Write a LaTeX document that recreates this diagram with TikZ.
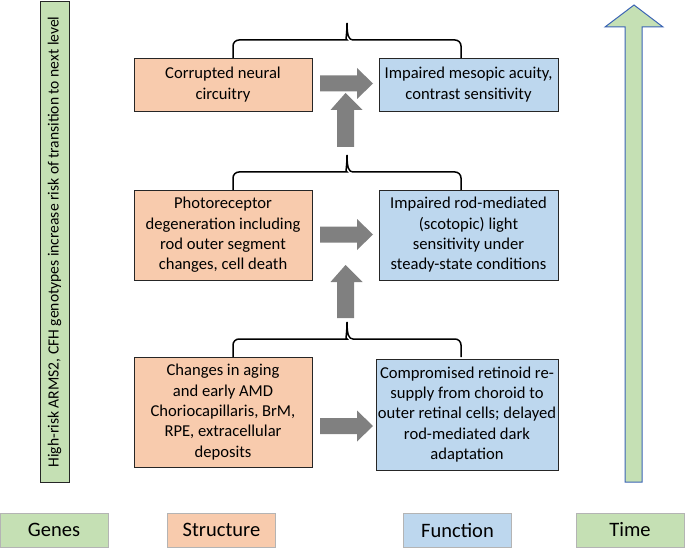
\documentclass[tikz,border=0pt]{standalone}
\usepackage{fontspec}
\setmainfont{Carlito}
\definecolor{sfill}{HTML}{F8CBAD}
\definecolor{ffill}{HTML}{BDD7EE}
\definecolor{gfill}{HTML}{C5E0B4}
\definecolor{agray}{HTML}{808080}
\definecolor{tblue}{HTML}{3B64B4}
\definecolor{lgray}{HTML}{B4B4B4}
\begin{document}
\begin{tikzpicture}[x=1pt,y=-1pt,
  box/.style={draw=black!85, line width=0.9pt, align=center, inner sep=1pt,
    font=\fontsize{16.6}{20.3}\selectfont},
  sbox/.style={box, fill=sfill},
  fbox/.style={box, fill=ffill},
  lab/.style={draw=lgray, line width=1pt, font=\fontsize{20.5}{24}\selectfont, minimum width=108pt, minimum height=34pt},
  blockarrow/.style={fill=agray, draw=none},
  bracepath/.style={draw=black, line width=1.5pt}
]
\useasboundingbox (0,0) rectangle (685,548);

% genes bar
\node[draw=black!85, line width=1pt, fill=gfill, minimum width=480pt, minimum height=29pt,
  rotate=90, font=\fontsize{15.6}{18}\selectfont] (genebar) at (54.5,242)
  {High-risk ARMS2, CFH genotypes increase risk of transition to next level};

% time arrow
\draw[fill=gfill, draw=tblue, line width=1pt]
  (625,482) -- (625,27) -- (605,27) -- (634,5) -- (663,27) -- (642,27) -- (642,482) -- cycle;

% boxes
\node[sbox, minimum width=178pt, minimum height=53pt] (s1) at (223,84.5) {Corrupted neural\\circuitry};
\node[fbox, minimum width=179pt, minimum height=53pt] (f1) at (468.5,84.5) {Impaired mesopic acuity,\\contrast sensitivity};
\node[sbox, minimum width=178pt, minimum height=90pt] (s2) at (223,235) {Photoreceptor\\degeneration including\\rod outer segment\\changes, cell death};
\node[fbox, minimum width=179pt, minimum height=90pt] (f2) at (468.5,235) {Impaired rod-mediated\\(scotopic) light\\sensitivity under\\steady-state conditions};
\node[sbox, minimum width=178pt, minimum height=110pt] (s3) at (223,412) {Changes in aging\\and early AMD\\Choriocapillaris, BrM,\\RPE, extracellular\\deposits};
\node[fbox, minimum width=182pt, minimum height=111pt] (f3) at (467,414.5) {Compromised retinoid re-\\supply from choroid to\\outer retinal cells; delayed\\rod-mediated dark\\adaptation};

% horizontal block arrows
\foreach \c in {83.5,234.5,426} {
  \fill[blockarrow] (320,{\c-8}) -- (357,{\c-8}) -- (357,{\c-15.5}) -- (373,\c)
    -- (357,{\c+15.5}) -- (357,{\c+8}) -- (320,{\c+8}) -- cycle;
}
% vertical block arrows
\foreach \t/\b in {93/147, 265/318} {
  \fill[blockarrow] (337,\b) -- (337,{\t+17}) -- (330.5,{\t+17}) -- (345.5,\t)
    -- (362.5,{\t+17}) -- (354,{\t+17}) -- (354,\b) -- cycle;
}

% braces
\foreach \t in {23,155,322} {
  \draw[bracepath, rounded corners=6pt] (233,{\t+35}) |- (341,{\t+17})
    [sharp corners] .. controls (345,{\t+17}) and (347,{\t+13}) .. (347,\t)
    .. controls (347,{\t+13}) and (349,{\t+17}) .. (353,{\t+17})
    [rounded corners=6pt] -| (461,{\t+35});
}

% bottom labels
\node[lab, fill=gfill] (genes) at (54,530) {Genes};
\node[lab, fill=sfill] (structure) at (221.5,530) {Structure};
\node[lab, fill=ffill] (function) at (457.5,530) {Function};
\node[lab, fill=gfill] (time) at (630,530) {Time};
\end{tikzpicture}
\end{document}
